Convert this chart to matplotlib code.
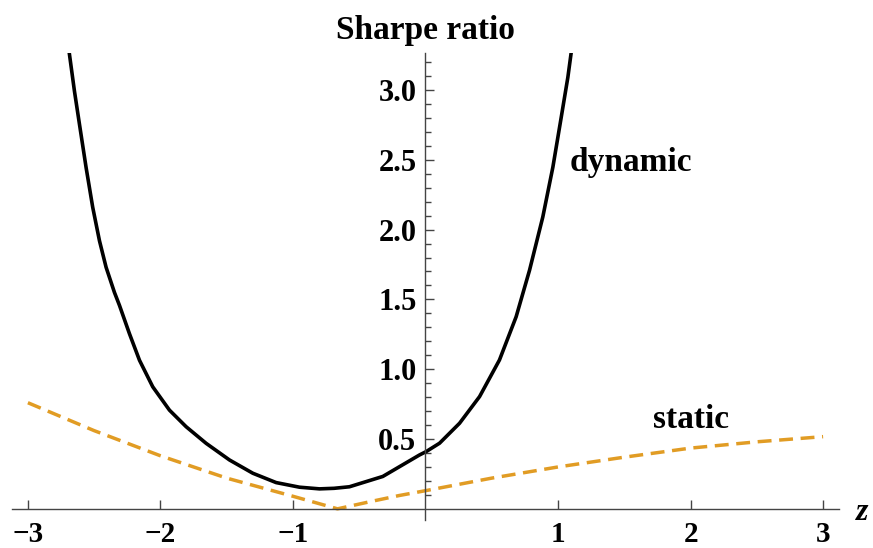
import matplotlib.pyplot as plt

# dynamic strategy Sharpe ratio vs z
z_dynamic = [-2.69, -2.649, -2.611, -2.561, -2.511, -2.46, -2.41, -2.347, -2.309,
             -2.234, -2.158, -2.058, -1.932, -1.806, -1.655, -1.479, -1.303,
             -1.127, -0.951, -0.8, -0.69, -0.574, -0.322, -0.045, 0.005, 0.106,
             0.257, 0.408, 0.558, 0.684, 0.785, 0.885, 0.961, 1.024, 1.074, 1.101]
sr_dynamic = [3.28, 2.993, 2.755, 2.445, 2.16, 1.92, 1.73, 1.55, 1.457,
              1.255, 1.064, 0.874, 0.707, 0.588, 0.469, 0.35, 0.255,
              0.188, 0.155, 0.143, 0.147, 0.158, 0.232, 0.386, 0.41, 0.47,
              0.613, 0.804, 1.066, 1.376, 1.709, 2.09, 2.447, 2.804, 3.09, 3.28]

# static strategy Sharpe ratio vs z
z_static = [-3.0, -2.5, -2.0, -1.5, -1.0, -0.664, -0.4, -0.2, 0.0,
            0.5, 1.0, 1.5, 2.0, 2.5, 3.0]
sr_static = [0.76, 0.56, 0.38, 0.22, 0.09, 0.0, 0.055, 0.095, 0.13,
             0.22, 0.30, 0.37, 0.435, 0.48, 0.517]

x_ticks = [-3, -2, -1, 1, 2, 3]
x_tick_labels = ["\u22123", "\u22122", "\u22121", "1", "2", "3"]
y_ticks = [0.5, 1.0, 1.5, 2.0, 2.5, 3.0]
y_tick_labels = ["0.5", "1.0", "1.5", "2.0", "2.5", "3.0"]
y_minor = [i / 10 for i in range(1, 33) if i % 5]

plt.rcParams["font.family"] = ["Liberation Serif", "DejaVu Serif"]
plt.rcParams["font.weight"] = "bold"

AXIS_COLOR = "#444444"

fig = plt.figure(figsize=(8.73, 5.48), dpi=100)
ax = fig.add_axes([12 / 873, 28 / 548, 827 / 873, 467 / 548])

ax.plot(z_dynamic, sr_dynamic, color="black", lw=2.6,
        solid_joinstyle="round", solid_capstyle="butt")
ax.plot(z_static, sr_static, color="#E19C24", lw=2.5, dashes=(4.0, 2.2))

ax.set_xlim(-3.12, 3.12)
ax.set_ylim(-0.08, 3.265)

# axes cross at the origin
for side in ("top", "right"):
    ax.spines[side].set_visible(False)
ax.spines["left"].set_position(("data", 0))
ax.spines["bottom"].set_position(("data", 0))
for side in ("left", "bottom"):
    ax.spines[side].set_color(AXIS_COLOR)
    ax.spines[side].set_linewidth(1.0)

ax.set_xticks(x_ticks)
ax.set_xticklabels(x_tick_labels)
ax.set_yticks(y_ticks)
ax.set_yticklabels(y_tick_labels)
ax.set_yticks(y_minor, minor=True)

ax.tick_params(axis="x", which="major", direction="in", length=6.5, width=1.0,
               color=AXIS_COLOR, pad=9, labelsize=21)
ax.tick_params(axis="y", which="major", direction="in", length=6.5, width=1.0,
               color=AXIS_COLOR, pad=6.5, labelsize=22)
ax.tick_params(axis="y", which="minor", direction="in", length=4, width=1.0,
               color=AXIS_COLOR)

ax.set_title("Sharpe ratio", fontsize=24, fontweight="bold", pad=10)

ax.text(1.087, 2.42, "dynamic", fontsize=24, fontweight="bold",
        ha="left", va="baseline")
ax.text(1.713, 0.579, "static", fontsize=24, fontweight="bold",
        ha="left", va="baseline")
ax.text(3.25, -0.079, "z", fontsize=23, style="italic", fontweight="bold",
        ha="left", va="baseline", clip_on=False)

fig.savefig("out.png", dpi=100)
